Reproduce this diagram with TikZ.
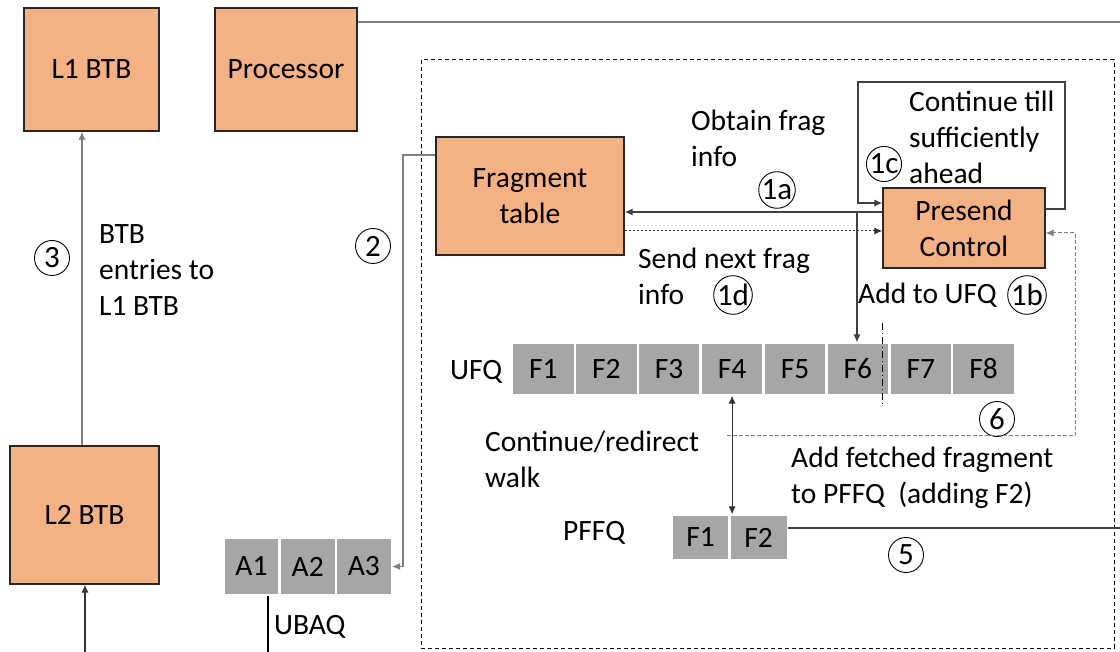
\documentclass[tikz,border=0pt]{standalone}
\usepackage{fontspec}
\setmainfont{Carlito}
\usetikzlibrary{arrows.meta,positioning}
\definecolor{boxor}{HTML}{F4B183}
\definecolor{cellg}{HTML}{A6A6A6}
\definecolor{lng}{HTML}{7F7F7F}
\begin{document}
\begin{tikzpicture}[x=1pt,y=-1pt,font=\fontsize{29.5}{36}\selectfont,
  box/.style={draw=black!85,line width=1.3pt,fill=boxor,inner sep=0pt,align=center},
  cell/.style={fill=cellg,draw=white,line width=1.2pt,inner sep=0pt},
  ucell/.style={cell,minimum width=61.7pt,minimum height=52pt},
  acell/.style={cell,minimum width=55pt,minimum height=57pt},
  pcell/.style={cell,minimum width=57pt,minimum height=45pt},
  lbl/.style={inner sep=0pt,anchor=west,align=left},
  circ/.style={circle,draw,line width=0.9pt,inner sep=0pt,minimum size=35pt,font=\fontsize{31}{32}\selectfont},
  arr/.style={-{Latex[length=8pt,width=7pt]}},
  darr/.style={{Latex[length=8pt,width=7pt]}-{Latex[length=8pt,width=7pt]}},
  ln/.style={line width=1.1pt}]
\useasboundingbox (0,0) rectangle (1120,652);
% frame
\draw[line width=1pt,dash pattern=on 4pt off 3pt] (421,60) rectangle (1114,648);
% boxes
\node[box,minimum width=135pt,minimum height=123pt] (l1) at (91.5,69.5) {L1 BTB};
\node[box,minimum width=142pt,minimum height=123pt] (proc) at (286,69.5) {Processor};
\node[box,minimum width=149pt,minimum height=138pt] (l2) at (84.5,515) {L2 BTB};
\node[box,minimum width=188pt,minimum height=118pt] (ft) at (530,196) {Fragment\\table};
\node[box,minimum width=162pt,minimum height=80pt] (pc) at (964,228) {Presend\\Control};
% UFQ cells
\node[ucell] (f1) at (543.4,369) {F1};
\node[ucell,right=0pt of f1] (f2) {F2};
\node[ucell,right=0pt of f2] (f3) {F3};
\node[ucell,right=0pt of f3] (f4) {F4};
\node[ucell,right=0pt of f4] (f5) {F5};
\node[ucell,right=0pt of f5] (f6) {F6};
\node[ucell,right=0pt of f6] (f7) {F7};
\node[ucell,right=0pt of f7] (f8) {F8};
% UBAQ cells
\node[acell] (a1) at (251.5,566.5) {A1};
\node[acell,right=0pt of a1] (a2) {A2};
\node[acell,right=0pt of a2] (a3) {A3};
% PFFQ cells
\node[pcell] (p1) at (700.5,537.5) {F1};
\node[pcell,right=0pt of p1] (p2) {F2};
% labels
\node[lbl] (t3) at (99,270) {BTB\\entries to\\L1 BTB};
\node[circ] (c3) at (52,258) {3};
\node[circ] (c2) at (373,246) {2};
\node[lbl] (tob) at (691,138) {Obtain frag\\info};
\node[circ] (c1a) at (777,190) {1a};
\node[lbl] (tct) at (909,137) {Continue till\\sufficiently\\ahead};
\node[circ] (c1c) at (884,164) {1c};
\node[lbl] (tsn) at (638,276) {Send next frag\\info};
\node[circ] (c1d) at (733,295) {1d};
\node[lbl] (tadd) at (858,295) {Add to UFQ};
\node[circ] (c1b) at (1027,295) {1b};
\node[lbl] (tufq) at (450,372) {UFQ};
\node[lbl] (tcr) at (485,459) {Continue/redirect\\walk};
\node[lbl] (taf) at (791,478) {Add fetched fragment\\to PFFQ\ \ (adding F2)};
\node[lbl] (tpf) at (563,533) {PFFQ};
\node[circ] (c5) at (906,555) {5};
\node[circ] (c6) at (997,419) {6};
\node[lbl] (tub) at (274,627) {UBAQ};
% coordinates
\coordinate (procout) at (1120,22);
\coordinate (x3) at (82,300);
\coordinate (l2in) at (85,652);
\coordinate (k2) at (403,155);
\coordinate (ub) at (268,652);
\coordinate (j1) at (857,212);
\coordinate (lr) at (1065,209);
\coordinate (lt) at (1065,82);
\coordinate (ll) at (858,82);
\coordinate (lb) at (858,203);
\coordinate (d1) at (700,231);
\coordinate (s6) at (727,436);
\coordinate (r6) at (1075,436);
\coordinate (u6) at (1075,233);
\coordinate (out5) at (1120,528);
\coordinate (dvt) at (882,323);
\coordinate (dvb) at (882,406);
% connectors
\draw[ln,lng] (proc.east |- procout) -- (procout);
\draw[ln,lng,arr] (l2.north -| x3) -- (l1.south -| x3);
\draw[ln,black!80,arr] (l2in) -- (l2in |- l2.south);
\draw[ln,lng,arr] (ft.west |- k2) -- (k2) -- (k2 |- a3.east) -- (a3.east);
\draw[ln,black] (ub |- a1.south) -- (ub);
\draw[ln,black!75,arr] (pc.west |- j1) -- (ft.east |- j1);
\draw[ln,black!75,arr] (j1) -- (j1 |- f6.north);
\draw[ln,black!75,arr] (pc.east |- lr) -- (lr) -- (lt) -- (ll) -- (lb) -- (pc.west |- lb);
\draw[line width=1pt,black!80,dash pattern=on 2pt off 2pt,arr] (ft.east |- d1) -- (pc.west |- d1);
\draw[line width=1pt,lng,dash pattern=on 4pt off 2pt,arr] (s6) -- (r6) -- (u6) -- (pc.east |- u6);
\draw[ln,black!80,darr] (f4.south) -- (f4.south |- p1.north);
\draw[ln,black!75] (p2.east |- out5) -- (out5);
\draw[line width=1pt,black,dash pattern=on 7pt off 3pt on 1pt off 3pt] (dvt) -- (dvb);
\end{tikzpicture}
\end{document}
